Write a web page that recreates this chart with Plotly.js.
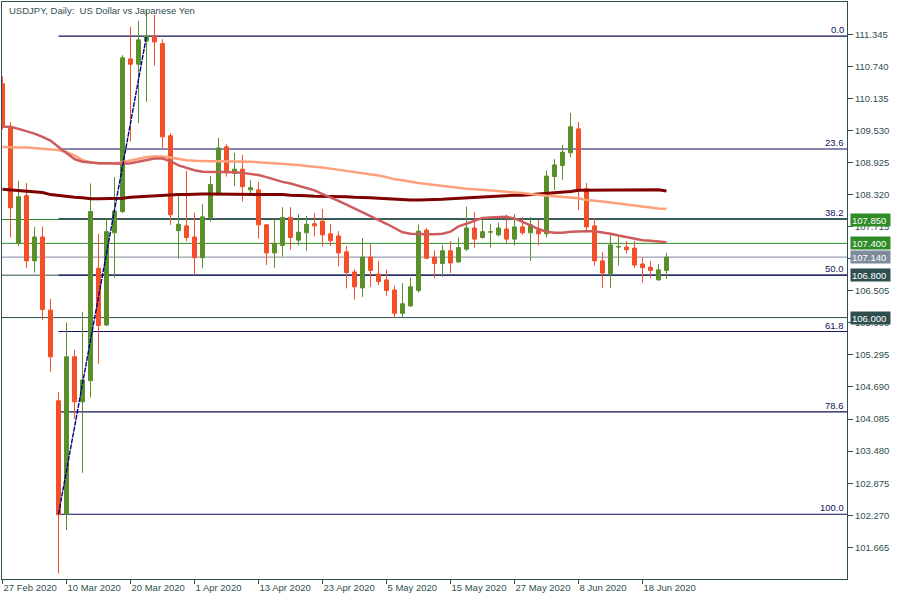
<!DOCTYPE html>
<html><head><meta charset="utf-8">
<script src="https://cdn.plot.ly/plotly-3.0.1.min.js"></script>
<style>html,body{margin:0;padding:0;background:#fff}#chart{width:900px;height:600px}</style>
</head><body><div id="chart"></div>
<script>
const dates = ["2020-02-27","2020-02-28","2020-03-02","2020-03-03","2020-03-04","2020-03-05","2020-03-06","2020-03-09","2020-03-10","2020-03-11","2020-03-12","2020-03-13","2020-03-16","2020-03-17","2020-03-18","2020-03-19","2020-03-20","2020-03-23","2020-03-24","2020-03-25","2020-03-26","2020-03-27","2020-03-30","2020-03-31","2020-04-01","2020-04-02","2020-04-03","2020-04-06","2020-04-07","2020-04-08","2020-04-09","2020-04-10","2020-04-13","2020-04-14","2020-04-15","2020-04-16","2020-04-17","2020-04-20","2020-04-21","2020-04-22","2020-04-23","2020-04-24","2020-04-27","2020-04-28","2020-04-29","2020-04-30","2020-05-01","2020-05-04","2020-05-05","2020-05-06","2020-05-07","2020-05-08","2020-05-11","2020-05-12","2020-05-13","2020-05-14","2020-05-15","2020-05-18","2020-05-19","2020-05-20","2020-05-21","2020-05-22","2020-05-25","2020-05-26","2020-05-27","2020-05-28","2020-05-29","2020-06-01","2020-06-02","2020-06-03","2020-06-04","2020-06-05","2020-06-08","2020-06-09","2020-06-10","2020-06-11","2020-06-12","2020-06-15","2020-06-16","2020-06-17","2020-06-18","2020-06-19","2020-06-22","2020-06-23"];
const open  = [110.41,109.59,107.40,108.30,107.07,107.52,106.14,104.43,102.29,105.26,104.41,104.81,106.93,105.86,107.60,108.00,110.88,110.78,111.22,111.31,111.17,109.43,107.64,107.73,107.52,107.13,107.89,108.34,109.22,108.72,108.80,108.41,108.41,107.75,107.22,107.36,107.89,107.46,107.60,107.77,107.82,107.58,107.54,107.24,106.86,106.56,107.14,106.82,106.71,106.52,106.08,106.22,106.51,107.65,107.14,107.02,107.26,107.05,107.29,107.69,107.51,107.61,107.56,107.67,107.48,107.71,107.60,107.65,107.58,108.66,108.87,109.11,109.56,108.43,107.73,107.07,106.83,107.33,107.33,107.31,107.01,106.95,106.71,106.89];
const high  = [110.55,109.69,108.58,108.54,107.71,107.72,106.35,104.59,105.91,105.39,106.11,108.53,107.58,107.88,108.65,110.95,111.49,111.60,111.80,111.71,111.25,109.48,108.30,108.77,107.98,108.14,108.67,109.39,109.27,109.11,109.07,108.59,108.56,107.77,107.87,108.08,108.08,107.95,107.92,107.97,108.05,107.77,107.63,107.35,106.91,107.50,107.39,107.07,106.90,106.60,106.65,106.75,107.76,107.69,107.27,107.37,107.44,107.51,108.09,107.99,107.84,107.77,107.79,107.94,107.95,107.90,107.90,107.84,108.78,108.99,109.26,109.86,109.69,108.54,107.88,107.24,107.60,107.52,107.44,107.44,107.13,107.07,107.01,107.22];
const low   = [109.55,107.51,107.35,106.93,106.85,105.95,104.98,101.17,101.99,104.09,103.07,104.49,105.13,105.84,106.75,107.97,109.32,109.67,110.07,110.75,109.20,107.75,107.11,107.44,106.81,106.93,107.81,108.32,108.66,108.48,108.19,108.34,107.49,106.99,106.94,107.15,107.28,107.36,107.26,107.53,107.34,107.35,106.97,106.55,106.34,106.39,106.58,106.61,106.41,105.99,105.99,106.20,106.47,107.10,106.74,106.77,106.84,107.03,107.26,107.32,107.49,107.32,107.53,107.40,107.36,107.56,107.07,107.36,107.51,108.41,108.60,109.02,108.03,107.60,106.98,106.56,106.56,106.98,107.21,106.94,106.66,106.75,106.70,106.73];
const close = [109.62,108.07,108.28,107.07,107.52,106.15,105.26,102.28,105.26,104.41,104.82,108.00,105.85,107.62,108.01,110.90,110.78,111.24,111.31,111.20,109.41,107.94,107.76,107.51,107.13,107.90,108.51,109.20,108.74,108.80,108.47,108.45,107.75,107.22,107.40,107.89,107.51,107.61,107.76,107.73,107.56,107.45,107.22,106.85,106.58,107.14,106.89,106.68,106.51,106.08,106.26,106.58,107.63,107.12,107.02,107.26,107.03,107.32,107.69,107.48,107.62,107.62,107.69,107.48,107.71,107.60,107.75,107.58,108.67,108.88,109.12,109.60,108.41,107.71,107.07,106.84,107.37,107.34,107.28,106.99,106.94,106.89,106.90,107.14];
const maFast = [109.60,109.60,109.56,109.52,109.47,109.41,109.34,109.22,109.10,108.99,108.94,108.92,108.91,108.91,108.90,108.90,108.91,108.94,108.97,109.00,109.00,108.95,108.87,108.82,108.78,108.75,108.75,108.75,108.75,108.74,108.73,108.71,108.69,108.65,108.60,108.56,108.53,108.49,108.45,108.40,108.33,108.27,108.20,108.13,108.06,107.99,107.91,107.84,107.77,107.69,107.61,107.58,107.57,107.57,107.57,107.58,107.62,107.72,107.77,107.83,107.88,107.89,107.90,107.90,107.87,107.81,107.74,107.67,107.62,107.60,107.60,107.62,107.63,107.63,107.63,107.61,107.58,107.55,107.52,107.49,107.46,107.45,107.43,107.42];
const maMid = [109.22,109.21,109.21,109.21,109.20,109.18,109.17,109.16,109.12,109.06,108.97,108.93,108.91,108.91,108.91,108.93,108.96,109.00,109.03,109.04,109.04,109.02,108.99,108.97,108.96,108.95,108.95,108.95,108.95,108.95,108.94,108.94,108.93,108.92,108.92,108.91,108.90,108.88,108.86,108.85,108.83,108.81,108.79,108.77,108.74,108.72,108.70,108.68,108.65,108.61,108.59,108.56,108.54,108.52,108.50,108.48,108.46,108.44,108.43,108.42,108.41,108.39,108.38,108.37,108.36,108.35,108.33,108.31,108.30,108.29,108.28,108.27,108.25,108.22,108.21,108.19,108.17,108.15,108.13,108.11,108.09,108.08,108.06,108.05];
const maSlow = [108.42,108.41,108.40,108.38,108.37,108.36,108.32,108.30,108.28,108.27,108.26,108.24,108.24,108.24,108.24,108.25,108.27,108.28,108.29,108.30,108.31,108.31,108.32,108.32,108.33,108.33,108.33,108.33,108.33,108.33,108.32,108.32,108.32,108.32,108.32,108.32,108.31,108.31,108.30,108.29,108.29,108.28,108.28,108.28,108.27,108.27,108.26,108.25,108.24,108.23,108.22,108.22,108.22,108.22,108.22,108.23,108.24,108.25,108.26,108.27,108.28,108.29,108.29,108.30,108.31,108.31,108.32,108.33,108.34,108.36,108.37,108.38,108.40,108.40,108.41,108.41,108.41,108.41,108.41,108.41,108.41,108.41,108.41,108.39];
const xTickIdx = [0,8,16,24,32,40,48,56,64,72,80];
const xTickText = ["27 Feb 2020","10 Mar 2020","20 Mar 2020","1 Apr 2020","13 Apr 2020","23 Apr 2020","5 May 2020","15 May 2020","27 May 2020","8 Jun 2020","18 Jun 2020"];
const yTicks = [111.345,110.740,110.135,109.530,108.925,108.320,107.715,107.110,106.505,105.900,105.295,104.690,104.085,103.480,102.875,102.270,101.665];
const yTickText = ["111.345","110.740","110.135","109.530","108.925","108.320","107.715","","106.505","105.900","105.295","104.690","104.085","103.480","102.875","102.270","101.665"];
const fibRatios = [0,23.6,38.2,50,61.8,78.6,100];
const fibHigh = 111.31, fibLow = 102.29, fibStartIdx = 7, fibEndIdx = 18;
const levelPrices = [107.85,107.40,107.14,106.80,106.00];
const levelColors = ["#2b8a25","#2b8a25","#7f8a99","#2f4f4f","#2f4f4f"];
const levelBoxColors = ["#2e8b28","#2e8b28","#7d8b9c","#2f4f4f","#2f4f4f"];

const GREEN = "#5b8f2a", RED = "#f44f26", NAVY = "#12125e", SLATE = "#2f4f4f";
const FONT = "Liberation Sans, Arial, sans-serif";
const xRange = [-0.0625, 105.5625];
const yRange = [101.067, 111.954];
const idx = dates.map((d,i)=>i);

const bodyColors = idx.map(i => close[i] >= open[i] ? GREEN : RED);
const bodies = {
  type: "bar", x: idx,
  base: idx.map(i => Math.min(open[i], close[i])),
  y: idx.map(i => Math.abs(close[i] - open[i])),
  width: 0.5,
  marker: {color: bodyColors, line: {color: bodyColors, width: 1}},
  hoverinfo: "skip", showlegend: false
};
function wicks(up, color){
  const xs = [], ys = [];
  idx.forEach(i => {
    if ((close[i] >= open[i]) === up) { xs.push(i, i, null); ys.push(low[i], high[i], null); }
  });
  return {type:"scatter", mode:"lines", x: xs, y: ys, line:{color, width:1}, hoverinfo:"skip", showlegend:false};
}
function maTrace(vals, color, width){
  return {type:"scatter", mode:"lines", x: idx, y: vals, line:{color, width}, hoverinfo:"skip", showlegend:false};
}
const zig = {type:"scatter", mode:"lines", x:[fibStartIdx, fibEndIdx], y:[fibLow, fibHigh],
  line:{color:"#00008b", width:1.4, dash:"5px,1px"}, hoverinfo:"skip", showlegend:false};

const fibPrice = r => fibHigh - (fibHigh - fibLow) * r / 100;
const shapes = [];
levelPrices.forEach((p,k) => shapes.push({type:"line", layer:"below", xref:"paper", x0:0, x1:1, yref:"y", y0:p, y1:p, line:{color:levelColors[k], width:1}}));
fibRatios.forEach(r => shapes.push({type:"line", layer:"below", xref:"x", x0:fibStartIdx, x1:xRange[1], yref:"y", y0:fibPrice(r), y1:fibPrice(r), line:{color:NAVY, width:1.1}}));

const annotations = [];
annotations.push({xref:"paper", yref:"paper", x:0, y:1, xanchor:"left", yanchor:"top", xshift:5, yshift:-1, showarrow:false,
  text:"USDJPY, Daily:\u00a0 US Dollar vs Japanese Yen", font:{family:FONT, size:9.5, color:SLATE}});
fibRatios.forEach(r => annotations.push({xref:"x", yref:"y", x:xRange[1], y:fibPrice(r), xanchor:"right", yanchor:"bottom", xshift:-1, yshift:-1, showarrow:false,
  text:r.toFixed(1), font:{family:FONT, size:9.5, color:NAVY}}));
levelPrices.forEach((p,k) => annotations.push({xref:"paper", yref:"y", x:1, y:p, xanchor:"left", yanchor:"middle", xshift:3, showarrow:false,
  text:p.toFixed(3), font:{family:FONT, size:9.5, color:"#ffffff"}, bgcolor:levelBoxColors[k], borderpad:1, width:37, height:10, align:"left"}));

const data = [bodies, wicks(true, GREEN), wicks(false, RED), maTrace(maSlow,"#800000",3), maTrace(maMid,"#ffa07a",2.5), maTrace(maFast,"#cd5c5c",2.5), zig];
const layout = {
  width:900, height:600, margin:{l:2, r:53, t:2, b:21},
  paper_bgcolor:"#ffffff", plot_bgcolor:"#ffffff", showlegend:false, bargap:0,
  xaxis:{range:xRange, showgrid:false, zeroline:false, showline:true, mirror:true, linecolor:SLATE, linewidth:1,
    tickmode:"array", tickvals:xTickIdx, ticktext:xTickText, ticks:"outside", ticklen:4, tickcolor:SLATE,
    ticklabelposition:"outside right", tickfont:{family:FONT, size:9.5, color:SLATE}},
  yaxis:{range:yRange, side:"right", showgrid:false, zeroline:false, showline:true, mirror:true, linecolor:SLATE, linewidth:1,
    tickmode:"array", tickvals:yTicks, ticktext:yTickText, ticks:"outside", ticklen:5, tickcolor:SLATE,
    tickfont:{family:FONT, size:9.5, color:SLATE}},
  shapes, annotations
};
Plotly.newPlot("chart", data, layout, {staticPlot:true, displayModeBar:false});
</script></body></html>
